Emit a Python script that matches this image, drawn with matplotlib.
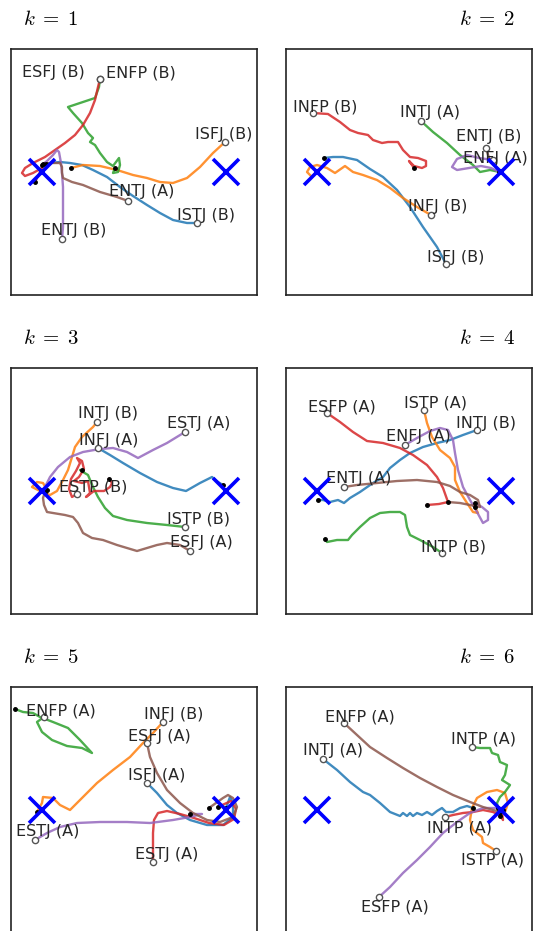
import matplotlib
matplotlib.use("Agg")
import matplotlib.pyplot as plt

plt.rcParams['mathtext.fontset'] = 'cm'

# ---------------- data (embedding coordinates, anchors at x=-92 / +92) ----------------
anchor_x = [-92, 92]
anchor_y = [0, 0]
colors = ['#1f77b4', '#ff7f0e', '#2ca02c', '#d62728', '#9467bd', '#8c564b']

# k = 1
p1_names = ['ISTJ (B)', 'ISFJ (B)', 'ENFP (B)', 'ESFJ (B)', 'ENTJ (B)', 'ENTJ (A)']
p1_x = [[63, 53, 39, 26, 13, -1, -14, -27, -41, -52, -64, -74, -84, -91],
        [91, 79, 66, 53, 39, 26, 13, -1, -17, -34, -51, -63],
        [-34, -35, -39, -51, -66, -61, -52, -46, -41, -44, -39, -34, -27, -21, -15, -14, -16, -21, -19],
        [-34, -36, -39, -44, -51, -59, -69, -79, -89, -101, -109, -112, -109, -101, -92, -99],
        [-72, -71, -71, -71, -72, -73, -75, -77, -81, -87, -92],
        [-6, -17, -34, -51, -62, -71, -72, -72, -74, -84, -88]]
p1_y = [[-51, -51, -48, -41, -33, -24, -15, -5, 2, 7, 9, 10, 9, 8],
        [30, 19, 5, -6, -11, -10, -6, -3, 2, 6, 7, 4],
        [93, 85, 74, 70, 65, 59, 49, 39, 34, 30, 27, 19, 10, 6, 14, 7, 0, -1, 4],
        [93, 85, 72, 59, 47, 37, 29, 22, 15, 9, 4, -1, -4, -1, 4, -10],
        [-67, -55, -35, -15, -1, 9, 20, 22, 17, 11, 7],
        [-29, -25, -20, -13, -10, -6, -1, 5, 9, 9, 8]]
p1_label_xy = [(43, -48), (61, 33), (-28, 95), (-112, 95), (-93, -63), (-25, -24)]

# k = 2
p2_names = ['ISFJ (B)', 'INFJ (B)', 'INTJ (A)', 'INFP (B)', 'ENFJ (A)', 'ENTJ (B)']
p2_x = [[37, 28, 14, 1, -12, -26, -39, -52, -66, -76, -85],
        [22, 8, -6, -19, -32, -46, -56, -64, -74, -82, -92, -99, -102, -97, -93],
        [12, 24, 38, 51, 64, 71, 81, 91],
        [-96, -81, -69, -59, -51, -41, -36, -27, -21, -11, -6, 1, 9, 17, 17, 13, 5, 0, 3, 5],
        [84, 70, 58, 48, 43, 48, 60, 72, 82, 90],
        [77, 80, 85, 89, 92]]
p2_y = [[-92, -75, -55, -35, -18, -5, 3, 12, 15, 15, 14],
        [-43, -35, -26, -16, -8, -3, 0, 6, -1, 4, 7, 5, 0, -5, 0],
        [51, 40, 29, 17, 7, 0, 2, 0],
        [59, 58, 50, 42, 39, 37, 32, 29, 30, 30, 22, 15, 14, 11, 6, 4, 6, 11, 7, 4],
        [12, 14, 17, 13, 5, 2, 4, 6, 4, 0],
        [24, 14, 7, 3, 0]]
p2_label_xy = [(18, -90), (-1, -39), (-9, 55), (-116, 61), (54, 9), (47, 31)]

# k = 3
p3_names = ['INFJ (A)', 'INTJ (B)', 'ISTP (B)', 'ESTP (B)', 'ESTJ (A)', 'ESFJ (A)']
p3_x = [[-36, -24, -11, 6, 23, 39, 52, 66, 78, 84, 89],
        [-37, -41, -52, -59, -62, -66, -71, -77, -84, -94, -102, -97, -91, -87],
        [51, 33, 13, -7, -21, -29, -36, -41, -46, -51, -54, -52],
        [-57, -62, -65, -63, -58, -54, -57, -52, -50, -55, -60, -52, -46, -44, -48, -40, -30, -24, -22, -25],
        [51, 33, 19, 4, -7, -21, -34, -51, -64, -76, -84, -89, -92],
        [56, 46, 33, 23, 13, 3, -7, -17, -31, -42, -51, -56, -61, -69, -81, -87, -90, -91, -89]]
p3_y = [[43, 36, 28, 18, 9, 3, 0, 8, 14, 9, 6],
        [69, 64, 54, 44, 34, 21, 11, 0, -4, 0, 4, 9, 8, 1],
        [-36, -34, -32, -29, -25, -17, -6, 4, 16, 19, 21, 21],
        [-3, -6, 2, 12, 20, 28, 33, 30, 22, 14, 10, 8, 10, -2, -6, 0, 0, 4, 8, 12],
        [59, 48, 41, 33, 39, 43, 42, 39, 34, 24, 14, 4, 1],
        [-60, -54, -52, -54, -57, -60, -57, -54, -49, -47, -42, -32, -26, -24, -22, -21, -14, -7, -1]]
p3_label_xy = [(-55, 46), (-56, 73), (33, -33), (-75, -1), (33, 63), (36, -56)]

# k = 4
p4_names = ['INTJ (B)', 'ISTP (A)', 'INTP (B)', 'ESFP (A)', 'ENFJ (A)', 'ENTJ (A)']
p4_x = [[68, 54, 41, 28, 14, 1, -9, -19, -26, -36, -49, -59, -65, -71, -79, -86, -91],
        [15, 18, 23, 31, 41, 46, 46, 51, 58, 64, 69, 66],
        [33, 24, 11, 1, -2, -4, -9, -19, -29, -39, -49, -57, -61, -72, -82, -84],
        [-82, -69, -56, -42, -26, -9, 4, 18, 28, 34, 39, 30, 18],
        [-4, 8, 21, 31, 39, 44, 46, 49, 54, 61, 68, 74, 79, 79, 73, 66],
        [-65, -52, -32, -12, 8, 28, 41, 51, 61, 69, 71, 61, 51, 39]]
p4_y = [[61, 56, 51, 48, 44, 38, 31, 23, 14, 8, -1, -7, -12, -9, -11, -9, -9],
        [81, 68, 54, 41, 33, 24, 11, -1, -12, -21, -22, -16],
        [-62, -56, -49, -44, -36, -24, -21, -21, -22, -27, -36, -44, -49, -49, -51, -48],
        [78, 69, 59, 50, 48, 43, 36, 26, 14, 3, -11, -13, -14],
        [46, 53, 60, 63, 61, 51, 38, 21, 4, -9, -21, -32, -29, -21, -16, -12],
        [4, 6, 8, 10, 11, 9, 5, -1, -4, -9, -16, -14, -12, -11]]
p4_label_xy = [(47, 63), (-5, 83), (12, -60), (-101, 80), (-23, 50), (-83, 8)]

# k = 5
p5_names = ['ISFJ (A)', 'INFJ (B)', 'ENFP (A)', 'ESTJ (A)', 'ESTJ (A)', 'ESFJ (A)']
p5_x = [[13, 23, 33, 43, 56, 73, 89, 99, 99, 96, 92],
        [29, 19, 9, -4, -21, -37, -51, -64, -74, -81, -91, -92, -97],
        [-90, -97, -92, -82, -67, -52, -42, -54, -66, -81, -94, -101, -111, -119],
        [19, 19, 19, 20, 24, 33, 46, 60, 75, 90, 100, 102, 97, 84],
        [-99, -87, -74, -57, -34, -7, 16, 39, 56, 68, 56],
        [13, 16, 23, 33, 46, 59, 73, 86, 99, 103, 99, 94, 89, 75]]
p5_y = [[27, 17, 5, -3, -10, -15, -15, -7, 7, 13, 2],
        [88, 77, 67, 53, 40, 27, 13, 0, 5, 12, 13, 7, -2],
        [93, 88, 78, 70, 64, 62, 57, 70, 82, 88, 93, 97, 98, 101],
        [-52, -40, -23, -10, -3, -1, -4, -8, -13, -15, -9, 1, 9, 3],
        [-30, -23, -17, -13, -12, -12, -13, -10, -7, -4, -4],
        [67, 53, 37, 20, 7, -3, -10, -12, -7, 3, 12, 15, 12, 2]]
p5_label_xy = [(-6, 30), (10, 91), (-108, 95), (1, -49), (-118, -26), (-6, 69)]

# k = 6
p6_names = ['INTJ (A)', 'ISTP (A)', 'INTP (A)', 'INTP (A)', 'ESFP (A)', 'ENFP (A)']
p6_x = [[-86, -72, -59, -46, -39, -29, -19, -9, -6, -2, 1, 4, 8, 13, 18, 23, 28, 33, 37, 44, 51, 58, 64],
        [87, 81, 74, 73, 64, 61, 63, 68, 78, 88, 96, 99, 96, 91],
        [63, 71, 81, 83, 89, 91, 98, 96, 93, 101, 96, 91, 88, 89],
        [36, 44, 54, 64, 74, 84, 91, 94, 93, 94, 91],
        [-30, -19, -6, 8, 21, 34, 48, 61, 74, 88, 94],
        [-65, -52, -39, -22, -6, 11, 28, 44, 61, 74, 91]]
p6_y = [[51, 40, 28, 18, 15, 7, -2, -6, -3, -6, -3, -6, -3, -5, -2, -5, -1, 2, -2, -2, 2, 4, 2],
        [-41, -37, -33, -27, -20, -10, 2, 12, 18, 20, 17, 7, -2, -2],
        [63, 62, 62, 57, 55, 48, 45, 35, 30, 25, 18, 13, 7, 2],
        [-7, -5, -3, -2, 0, -2, -5, -10, -2, 3, -6],
        [-87, -77, -63, -50, -37, -23, -12, -3, 2, 2, 0],
        [87, 75, 63, 52, 42, 32, 23, 15, 8, 3, -2]]
p6_label_xy = [(-106, 55), (52, -55), (42, 67), (18, -23), (-48, -102), (-84, 88)]

titles = [r'$k\;=\;1$', r'$k\;=\;2$', r'$k\;=\;3$', r'$k\;=\;4$', r'$k\;=\;5$', r'$k\;=\;6$']

panels = [(p1_names, p1_x, p1_y, p1_label_xy),
          (p2_names, p2_x, p2_y, p2_label_xy),
          (p3_names, p3_x, p3_y, p3_label_xy),
          (p4_names, p4_x, p4_y, p4_label_xy),
          (p5_names, p5_x, p5_y, p5_label_xy),
          (p6_names, p6_x, p6_y, p6_label_xy)]

# ---------------- layout ----------------
W, H = 535, 931
fig = plt.figure(figsize=(W / 100, H / 100), dpi=100)

col_left = [11, 286]
row_top = [49, 368, 687]
size = 246

for i, (names, xs, ys, lxy) in enumerate(panels):
    r, c = divmod(i, 2)
    left = col_left[c] / W
    bottom = 1 - (row_top[r] + size) / H
    ax = fig.add_axes([left, bottom, size / W, size / H])
    ax.set_xlim(-123, 123)
    ax.set_ylim(-123, 123)
    ax.set_xticks([])
    ax.set_yticks([])
    for sp in ax.spines.values():
        sp.set_linewidth(1.2)
        sp.set_color('#222222')

    for j, (name, x, y) in enumerate(zip(names, xs, ys)):
        ax.plot(x, y, color=colors[j], lw=1.7, alpha=0.85, zorder=2)
        ax.plot(x[0], y[0], 'o', ms=4.5, mfc='white', mec='#555555', mew=1.0, zorder=4)
        ax.plot(x[-1], y[-1], 'o', ms=2.5, color='black', zorder=4)
        ax.text(lxy[j][0], lxy[j][1], name, fontsize=11.5, color='#262626',
                ha='left', va='baseline', zorder=5)

    ax.plot(anchor_x, anchor_y, 'x', color='blue', ms=19, mew=2.6, zorder=6,
            linestyle='none')

    # titles
    ty = 1 - (row_top[r] - 24) / H
    if c == 0:
        fig.text(23 / W, ty, titles[i], fontsize=15, ha='left', va='baseline')
    else:
        fig.text(515 / W, ty, titles[i], fontsize=15, ha='right', va='baseline')

fig.savefig('out.png', dpi=100)
